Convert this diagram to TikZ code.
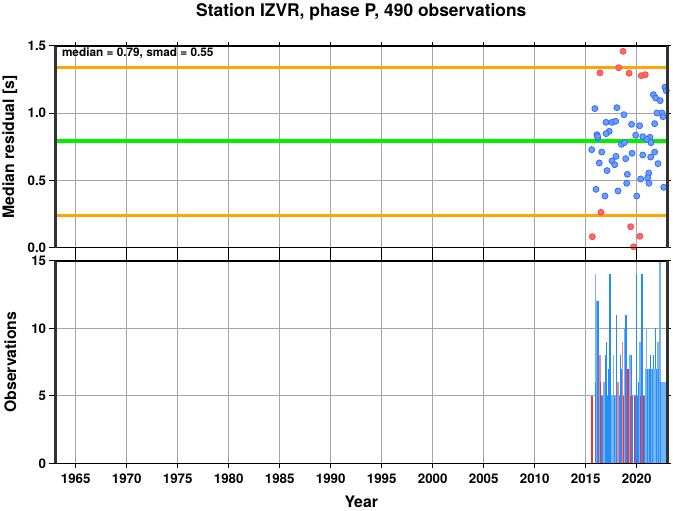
\documentclass[tikz,border=0pt]{standalone}
\usepackage{fontspec}
\setmainfont{TeX Gyre Heros}
\usepackage{tikz}
\definecolor{gridgray}{RGB}{165,165,165}
\definecolor{framegray}{RGB}{50,50,50}
\definecolor{medgreen}{RGB}{0,240,0}
\definecolor{smadorange}{RGB}{255,165,0}
\definecolor{dotblue}{RGB}{105,160,255}
\definecolor{dotblueedge}{RGB}{55,105,255}
\definecolor{dotred}{RGB}{255,105,105}
\definecolor{dotrededge}{RGB}{255,70,70}
\definecolor{barblue}{RGB}{35,140,255}
\definecolor{barlight}{RGB}{115,180,255}
\definecolor{barred}{RGB}{255,45,45}
\definecolor{barpink}{RGB}{255,125,125}
\tikzstyle{gridline} = [gridgray, line width=0.7pt]
\tikzstyle{tickmark} = [black, line width=0.9pt]
\tikzstyle{sideframe} = [framegray, line width=2.5pt]
\tikzstyle{flatframe} = [black, line width=1.3pt]
\tikzstyle{ticklabel} = [font=\bfseries\fontsize{13.3}{15}\selectfont, inner sep=0pt]
\tikzstyle{axislabel} = [font=\bfseries\fontsize{15.8}{18}\selectfont, inner sep=0pt]
\tikzstyle{bluedot} = [fill=dotblue, draw=dotblueedge, line width=0.8pt]
\tikzstyle{reddot} = [fill=dotred, draw=dotrededge, line width=0.8pt]

\begin{document}
\begin{tikzpicture}[x=1pt,y=1pt]
\useasboundingbox (0,0) rectangle (673,511);
\fill[white] (0,0) rectangle (673,511);

%% Title %%
\node [font=\bfseries\fontsize{17.4}{20}\selectfont, inner sep=0pt, anchor=base] (Title) at (361.3,494) {Station IZVR, phase P, 490 observations};

%% Upper panel: median residual %%
\begin{scope}[x=10.2pt, y=134.5pt, shift={(55.3pt,263.3pt)}]
\foreach \yr in {1965,1970,...,2020}
  \draw[gridline] ({\yr-1963},0) -- ({\yr-1963},1.5);
\foreach \v in {0.5,1.0}
  \draw[gridline] (0,\v) -- (60,\v);
\foreach \yr in {1965,1970,...,2020}{
  \draw[tickmark] ({\yr-1963},1.5) -- ++(0pt,4pt);
  \draw[tickmark] ({\yr-1963},0) -- ++(0pt,-13pt);
}
\foreach \v/\lab [count=\i] in {0/0.0,0.5/0.5,1/1.0,1.5/1.5}{
  \draw[tickmark] (0,\v) -- ++(-6pt,0pt);
  \draw[tickmark] (60,\v) -- ++(4pt,0pt);
  \node[ticklabel, anchor=east] (restick\i) at ([xshift=-9pt]0,\v) {\lab};
}

%% median and smad lines %%
\draw[smadorange, line width=2.6pt] (0,1.34) -- (60,1.34);
\draw[smadorange, line width=2.6pt] (0,0.24) -- (60,0.24);
\draw[medgreen, line width=4pt] (0,0.79) -- (60,0.79);

%% residuals %%
\foreach \t/\v in {2022.77/1.193, 2022.9/1.167, 2021.63/1.138, 2021.86/1.113, 2022.3/1.093,
  2015.9/1.034, 2018.06/1.041, 2018.75/0.989, 2021.99/1.001, 2022.48/1.001, 2022.58/0.974,
  2016.99/0.932, 2017.58/0.932, 2017.94/0.94, 2019.5/0.917, 2020.29/0.907, 2021.76/0.922,
  2017.3/0.865, 2017.0/0.848, 2016.1/0.84, 2016.2/0.816, 2016.15/0.828, 2019.9/0.836,
  2020.6/0.825, 2021.3/0.821, 2021.0/0.806, 2021.4/0.781, 2018.5/0.769, 2018.8/0.781,
  2015.59/0.729, 2016.57/0.711, 2017.97/0.679, 2019.54/0.702, 2020.59/0.689, 2021.37/0.674,
  2021.76/0.711, 2018.92/0.662, 2017.58/0.645, 2017.84/0.617, 2016.33/0.63, 2022.09/0.625,
  2017.09/0.573, 2019.08/0.546, 2021.18/0.555, 2021.08/0.52, 2020.39/0.511, 2021.2/0.479,
  2019.02/0.479, 2022.65/0.449, 2016.01/0.434, 2018.17/0.422, 2016.89/0.384, 2020.0/0.384}
  \filldraw[bluedot] ({\t-1963},\v) circle (3pt);
\foreach \t/\v in {2018.66/1.46, 2018.24/1.338, 2016.4/1.30, 2019.25/1.297, 2020.45/1.279,
  2020.84/1.286, 2016.5/0.263, 2019.41/0.156, 2015.65/0.082, 2020.32/0.085, 2019.7/0.007}
  \filldraw[reddot] ({\t-1963},\v) circle (3pt);

%% frame %%
\draw[flatframe] (0,0) -- (60,0);
\draw[flatframe] (0,1.5) -- (60,1.5);
\draw[sideframe] (0,0) -- (0,1.5);
\draw[sideframe] (60,0) -- (60,1.5);

\node[font=\bfseries\fontsize{11.8}{14}\selectfont, inner sep=0pt, anchor=west] (Stats) at ([xshift=6.5pt,yshift=-7pt]0,1.5) {median = 0.79, smad = 0.55};
\node[axislabel, rotate=90, anchor=base] (ResLabel) at ([xshift=-41.3pt]0,0.75) {Median residual [s]};
\end{scope}

%% Lower panel: observations %%
\begin{scope}[x=10.2pt, y=13.49pt, shift={(55.3pt,47.7pt)}]
\foreach \yr in {1965,1970,...,2020}
  \draw[gridline] ({\yr-1963},0) -- ({\yr-1963},15);
\foreach \v in {5,10}
  \draw[gridline] (0,\v) -- (60,\v);

%% counts per bin %%
\foreach \t/\n/\c in {2015.62/5/barred, 2015.94/14/barlight, 2016.01/6/barblue, 2016.08/12/barlight,
  2016.21/12/barblue, 2016.27/10/barblue, 2016.4/8/barpink, 2016.47/6/barred, 2016.6/5/barblue,
  2016.7/5/barblue, 2016.8/6/barlight, 2016.93/8/barblue, 2017.06/9/barblue, 2017.15/5/barblue,
  2017.26/7/barblue, 2017.38/14/barblue, 2017.5/5/barblue, 2017.58/5/barlight, 2017.71/8/barlight,
  2017.84/5/barblue, 2017.95/5/barlight, 2018.04/11/barblue, 2018.17/6/barpink, 2018.3/5/barblue,
  2018.43/8/barblue, 2018.56/7/barblue, 2018.63/9/barpink, 2018.72/5/barred, 2018.82/10/barlight,
  2018.95/11/barblue, 2019.02/8/barblue, 2019.15/7/barred, 2019.27/8/barblue, 2019.34/8/barlight,
  2019.47/8/barblue, 2019.4/5/barred, 2019.6/5/barblue, 2019.8/5/barred, 2019.9/5/barblue,
  2020.0/14/barblue, 2020.1/5/barblue, 2020.2/6/barblue, 2020.33/9/barlight, 2020.39/5/barred,
  2020.52/14/barblue, 2020.65/5/barred, 2020.75/5/barblue, 2020.85/7/barblue, 2020.92/7/barlight,
  2020.98/10/barlight, 2021.05/7/barblue, 2021.11/7/barblue, 2021.18/7/barlight, 2021.24/7/barlight,
  2021.3/7/barblue, 2021.37/8/barblue, 2021.44/7/barlight, 2021.5/7/barlight, 2021.56/7/barblue,
  2021.63/8/barblue, 2021.7/7/barlight, 2021.82/10/barblue, 2021.9/7/barlight, 2022.0/7/barblue,
  2022.09/9/barlight, 2022.15/7/barblue, 2022.22/9/barblue, 2022.28/15/barlight, 2022.36/6/barblue,
  2022.48/6/barlight, 2022.58/6/barlight, 2022.68/6/barlight, 2022.78/6/barlight, 2022.87/6/barlight}
  \fill[\c] ({\t-1963-0.065},0) rectangle ({\t-1963+0.065},\n);

\foreach \yr in {1965,1970,...,2020}{
  \draw[tickmark] ({\yr-1963},0) -- ++(0pt,-5pt);
  \node[ticklabel, anchor=base] (yeartick\yr) at ([yshift=-20.7pt]{\yr-1963},0) {\yr};
}
\foreach \v [count=\i] in {0,5,10,15}{
  \draw[tickmark] (0,\v) -- ++(-6pt,0pt);
  \draw[tickmark] (60,\v) -- ++(4pt,0pt);
  \node[ticklabel, anchor=east] (obstick\i) at ([xshift=-9pt]0,\v) {\v};
}

%% frame %%
\draw[flatframe] (0,0) -- (60,0);
\draw[flatframe] (0,15) -- (60,15);
\draw[sideframe] (0,0) -- (0,15);
\draw[sideframe] (60,0) -- (60,15);

\node[axislabel, rotate=90, anchor=base] (ObsLabel) at ([xshift=-39.3pt]0,7.5) {Observations};
\node[axislabel, anchor=base] (YearLabel) at ([yshift=-44.2pt]30,0) {Year};
\end{scope}
\end{tikzpicture}
\end{document}
